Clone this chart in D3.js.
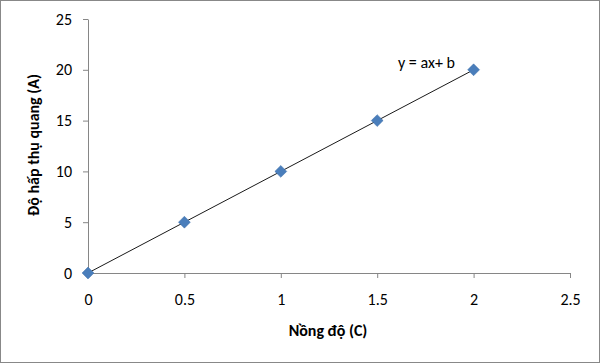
<!DOCTYPE html>
<html>
<head>
<meta charset="utf-8">
<script src="https://cdn.jsdelivr.net/npm/d3@7"></script>
<style>
  body { margin: 0; background: #fff; }
  text { font-family: Carlito, "Open Sans", sans-serif; }
</style>
</head>
<body>
<div id="chart-area"></div>
<script>
// Data
let concentration = [0, 0.5, 1, 1.5, 2];
let absorbance = [0, 5, 10, 15, 20];
let xTicks = [0, 0.5, 1, 1.5, 2, 2.5];
let yTicks = [0, 5, 10, 15, 20, 25];
let equationLabel = "y = ax+ b";

let W = 600, H = 363;
let margin = { top: 19, right: 30, bottom: 90, left: 88 };
let width = W - margin.left - margin.right,
  height = H - margin.top - margin.bottom;

let root = d3.select("#chart-area")
  .append("svg")
  .attr("width", W)
  .attr("height", H);

// outer border
root.append("rect")
  .attr("x", 0.5).attr("y", 0.5)
  .attr("width", W - 1).attr("height", H - 1)
  .attr("fill", "#fff")
  .attr("stroke", "#888");

let svg = root.append("g")
  .attr("transform", "translate(" + margin.left + "," + margin.top + ")");

// Scales
let x = d3.scaleLinear().domain([0, 2.5]).range([0, width]);
let y = d3.scaleLinear().domain([0, 25]).range([height, 0]);

// Axes
let xAxis = d3.axisBottom(x).tickValues(xTicks).tickSize(5).tickSizeOuter(0)
  .tickFormat(d => d);
let yAxis = d3.axisLeft(y).tickValues(yTicks).tickSize(5).tickSizeOuter(0)
  .tickFormat(d => d);

let gx = svg.append("g")
  .attr("class", "axis x-axis")
  .attr("transform", "translate(0," + height + ")")
  .call(xAxis);
let gy = svg.append("g")
  .attr("class", "axis y-axis")
  .call(yAxis);

[gx, gy].forEach(g => {
  g.select(".domain").attr("stroke", "#868686");
  g.selectAll(".tick line").attr("stroke", "#868686");
  g.selectAll(".tick text")
    .attr("fill", "#000")
    .style("font-size", "16px");
});
gx.selectAll(".tick text").attr("y", 0).attr("dy", 0).attr("transform", "translate(0,32)");
gy.selectAll(".tick text").attr("x", -16);

// Line
let line = d3.line()
  .x((d, i) => x(concentration[i]))
  .y(d => y(d));

svg.append("path")
  .datum(absorbance)
  .attr("fill", "none")
  .attr("stroke", "#1a1a1a")
  .attr("stroke-width", 1)
  .attr("d", line);

// Markers
svg.selectAll(".pt")
  .data(absorbance)
  .enter()
  .append("path")
  .attr("class", "pt")
  .attr("transform", (d, i) => "translate(" + x(concentration[i]) + "," + y(d) + ")")
  .attr("d", d3.symbol().type(d3.symbolDiamond2).size(90))
  .attr("fill", "#4a7ebb")
  .attr("stroke", "#3f6fa8")
  .attr("stroke-width", 0.5);

// Equation label
svg.append("text")
  .attr("x", 398 - margin.left)
  .attr("y", 68 - margin.top)
  .attr("text-anchor", "start")
  .style("font-size", "16px")
  .text(equationLabel);

// Axis titles
root.append("text")
  .attr("x", 328)
  .attr("y", 336)
  .attr("text-anchor", "middle")
  .style("font-size", "16px")
  .style("font-weight", "bold")
  .text("Nồng độ (C)");

root.append("text")
  .attr("transform", "translate(39,145) rotate(-90)")
  .attr("text-anchor", "middle")
  .style("font-size", "16px")
  .style("font-weight", "bold")
  .text("Độ hấp thụ quang (A)");
</script>
</body>
</html>
